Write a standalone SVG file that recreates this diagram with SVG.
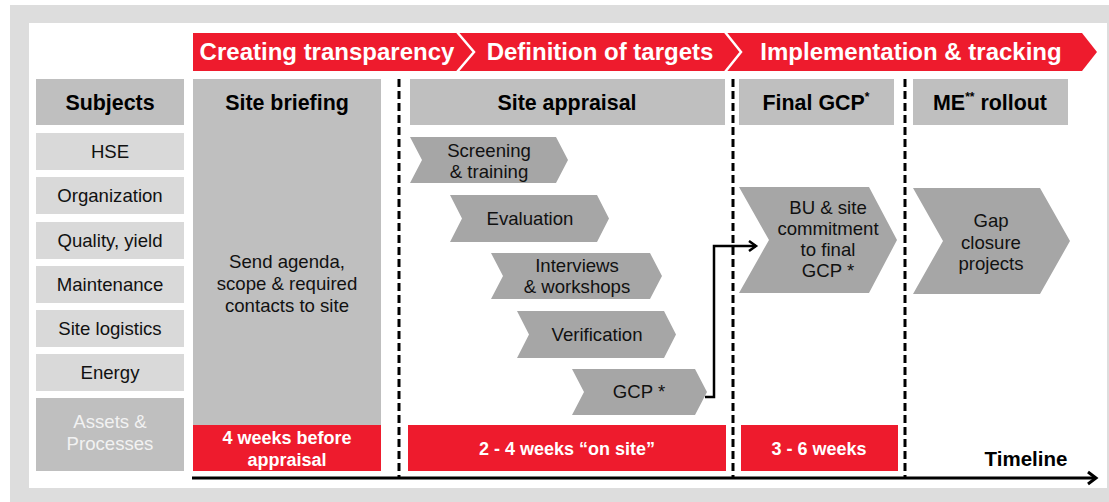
<svg xmlns="http://www.w3.org/2000/svg" width="1109" height="502" viewBox="0 0 1109 502">
<defs>
<style>
text{font-family:"Liberation Sans",Arial,sans-serif;text-anchor:middle}
.hd{fill:#bfbfbf}
.sb{fill:#d9d9d9}
.chev{fill:#a6a6a6}
.red{fill:#ee1b2d}
.t{font-size:18.6px;fill:#111}
.th{font-size:21.4px;font-weight:bold;fill:#000}
.tb{font-size:24px;font-weight:bold;fill:#fff}
.tr{font-size:18px;font-weight:bold;fill:#fff}
.dash{stroke:#000;stroke-width:3;stroke-dasharray:8 4;fill:none}
.conn{stroke:#000;stroke-width:2.5;fill:none}
</style>
<marker id="arr" markerWidth="12" markerHeight="12" refX="9" refY="6" orient="auto" markerUnits="userSpaceOnUse">
<path d="M2,1 L9,6 L2,11" fill="none" stroke="#000" stroke-width="2.5"/>
</marker>
<marker id="arr2" markerWidth="14" markerHeight="16" refX="11" refY="8" orient="auto" markerUnits="userSpaceOnUse">
<path d="M3,2 L11,8 L3,14" fill="none" stroke="#000" stroke-width="3"/>
</marker>
</defs>
<rect x="10" y="5" width="1099" height="497" fill="#dddddd"/>
<rect x="29" y="23" width="1078" height="465" fill="#ffffff"/>

<g id="banner">
<path class="red" d="M193,33 H1082 L1097,52 L1082,71 H193 Z"/>
<path d="M457,32 L474,52 L457,72" fill="none" stroke="#fff" stroke-width="2.5"/>
<path d="M725,32 L741,52 L725,72" fill="none" stroke="#fff" stroke-width="2.5"/>
<text class="tb" x="327" y="60">Creating transparency</text>
<text class="tb" x="600" y="60">Definition of targets</text>
<text class="tb" x="911" y="60">Implementation &amp; tracking</text>
</g>

<g id="subjects">
<rect class="hd" x="36" y="79" width="148" height="46"/>
<text class="th" x="110" y="110">Subjects</text>
</g>
<g id="hse"><rect class="sb" x="36" y="133" width="148" height="37"/><text class="t" x="110" y="158">HSE</text></g>
<g id="organization"><rect class="sb" x="36" y="177" width="148" height="37"/><text class="t" x="110" y="202">Organization</text></g>
<g id="quality"><rect class="sb" x="36" y="222" width="148" height="37"/><text class="t" x="110" y="247">Quality, yield</text></g>
<g id="maintenance"><rect class="sb" x="36" y="266" width="148" height="37"/><text class="t" x="110" y="291">Maintenance</text></g>
<g id="logistics"><rect class="sb" x="36" y="310" width="148" height="37"/><text class="t" x="110" y="335">Site logistics</text></g>
<g id="energy"><rect class="sb" x="36" y="354" width="148" height="37"/><text class="t" x="110" y="379">Energy</text></g>
<g id="assets"><rect class="hd" x="36" y="398" width="148" height="73"/>
<text class="t" x="110" y="428" style="fill:#f2f2f2">Assets &amp;</text>
<text class="t" x="110" y="450" style="fill:#f2f2f2">Processes</text></g>

<g id="site-briefing">
<rect class="hd" x="193" y="79" width="188" height="346"/>
<text class="th" x="287" y="110">Site briefing</text>
<text class="t" x="287" y="268">Send agenda,</text>
<text class="t" x="287" y="290">scope &amp; required</text>
<text class="t" x="287" y="312">contacts to site</text>
</g>
<g id="briefing-time"><rect class="red" x="193" y="425" width="188" height="46"/>
<text class="tr" x="287" y="444">4 weeks before</text>
<text class="tr" x="287" y="466">appraisal</text></g>

<g id="site-appraisal"><rect class="hd" x="410" y="79" width="315" height="46"/>
<text class="th" x="567" y="110">Site appraisal</text></g>
<g id="screening"><path class="chev" d="M410,137 H556 L568,160 L556,183 H410 L422,160 Z"/>
<text class="t" x="489" y="157">Screening</text><text class="t" x="489" y="178">&amp; training</text></g>
<g id="evaluation"><path class="chev" d="M450,195 H597 L609,218.5 L597,242 H450 L462,218.5 Z"/>
<text class="t" x="530" y="225">Evaluation</text></g>
<g id="interviews"><path class="chev" d="M491,253 H650 L662,276 L650,299 H491 L503,276 Z"/>
<text class="t" x="577" y="272">Interviews</text><text class="t" x="577" y="293">&amp; workshops</text></g>
<g id="verification"><path class="chev" d="M517,311 H664 L676,334.5 L664,358 H517 L529,334.5 Z"/>
<text class="t" x="597" y="341">Verification</text></g>
<g id="gcp"><path class="chev" d="M572,369 H695 L707,392 L695,415 H572 L584,392 Z"/>
<text class="t" x="639" y="398">GCP *</text></g>
<g id="appraisal-time"><rect class="red" x="408" y="425" width="318" height="46"/>
<text class="tr" x="567" y="455">2 - 4 weeks “on site”</text></g>

<g id="final-gcp"><rect class="hd" x="739" y="79" width="155" height="46"/>
<text class="th" x="816" y="110">Final GCP<tspan font-size="12" dy="-9">*</tspan></text></g>
<g id="commitment"><path class="chev" d="M739,187 H869 L897,240 L869,293 H739 L769,240 Z"/>
<text class="t" x="828" y="214">BU &amp; site</text>
<text class="t" x="828" y="235">commitment</text>
<text class="t" x="828" y="256">to final</text>
<text class="t" x="828" y="277">GCP *</text></g>
<g id="final-time"><rect class="red" x="741" y="425" width="157" height="46"/>
<text class="tr" x="819" y="455">3 - 6 weeks</text></g>

<g id="me-rollout"><rect class="hd" x="913" y="79" width="155" height="46"/>
<text class="th" x="990" y="110">ME<tspan font-size="12" dy="-9">**</tspan><tspan dy="9"> rollout</tspan></text></g>
<g id="gap-closure"><path class="chev" d="M913,188 H1040 L1070,241 L1040,294 H913 L943,241 Z"/>
<text class="t" x="991" y="227">Gap</text>
<text class="t" x="991" y="249">closure</text>
<text class="t" x="991" y="270">projects</text></g>

<g id="timeline-label"><text class="th" x="1026" y="466" style="font-size:20.5px">Timeline</text></g>

<g id="connectors">
<line class="dash" x1="399" y1="79" x2="399" y2="478"/>
<line class="dash" x1="733" y1="79" x2="733" y2="478"/>
<line class="dash" x1="905" y1="79" x2="905" y2="478"/>
<path class="conn" d="M705,397 H714 V246 H756" marker-end="url(#arr)"/>
<path d="M192,478 H1096" stroke="#000" stroke-width="3" fill="none" marker-end="url(#arr2)"/>
</g>
</svg>
